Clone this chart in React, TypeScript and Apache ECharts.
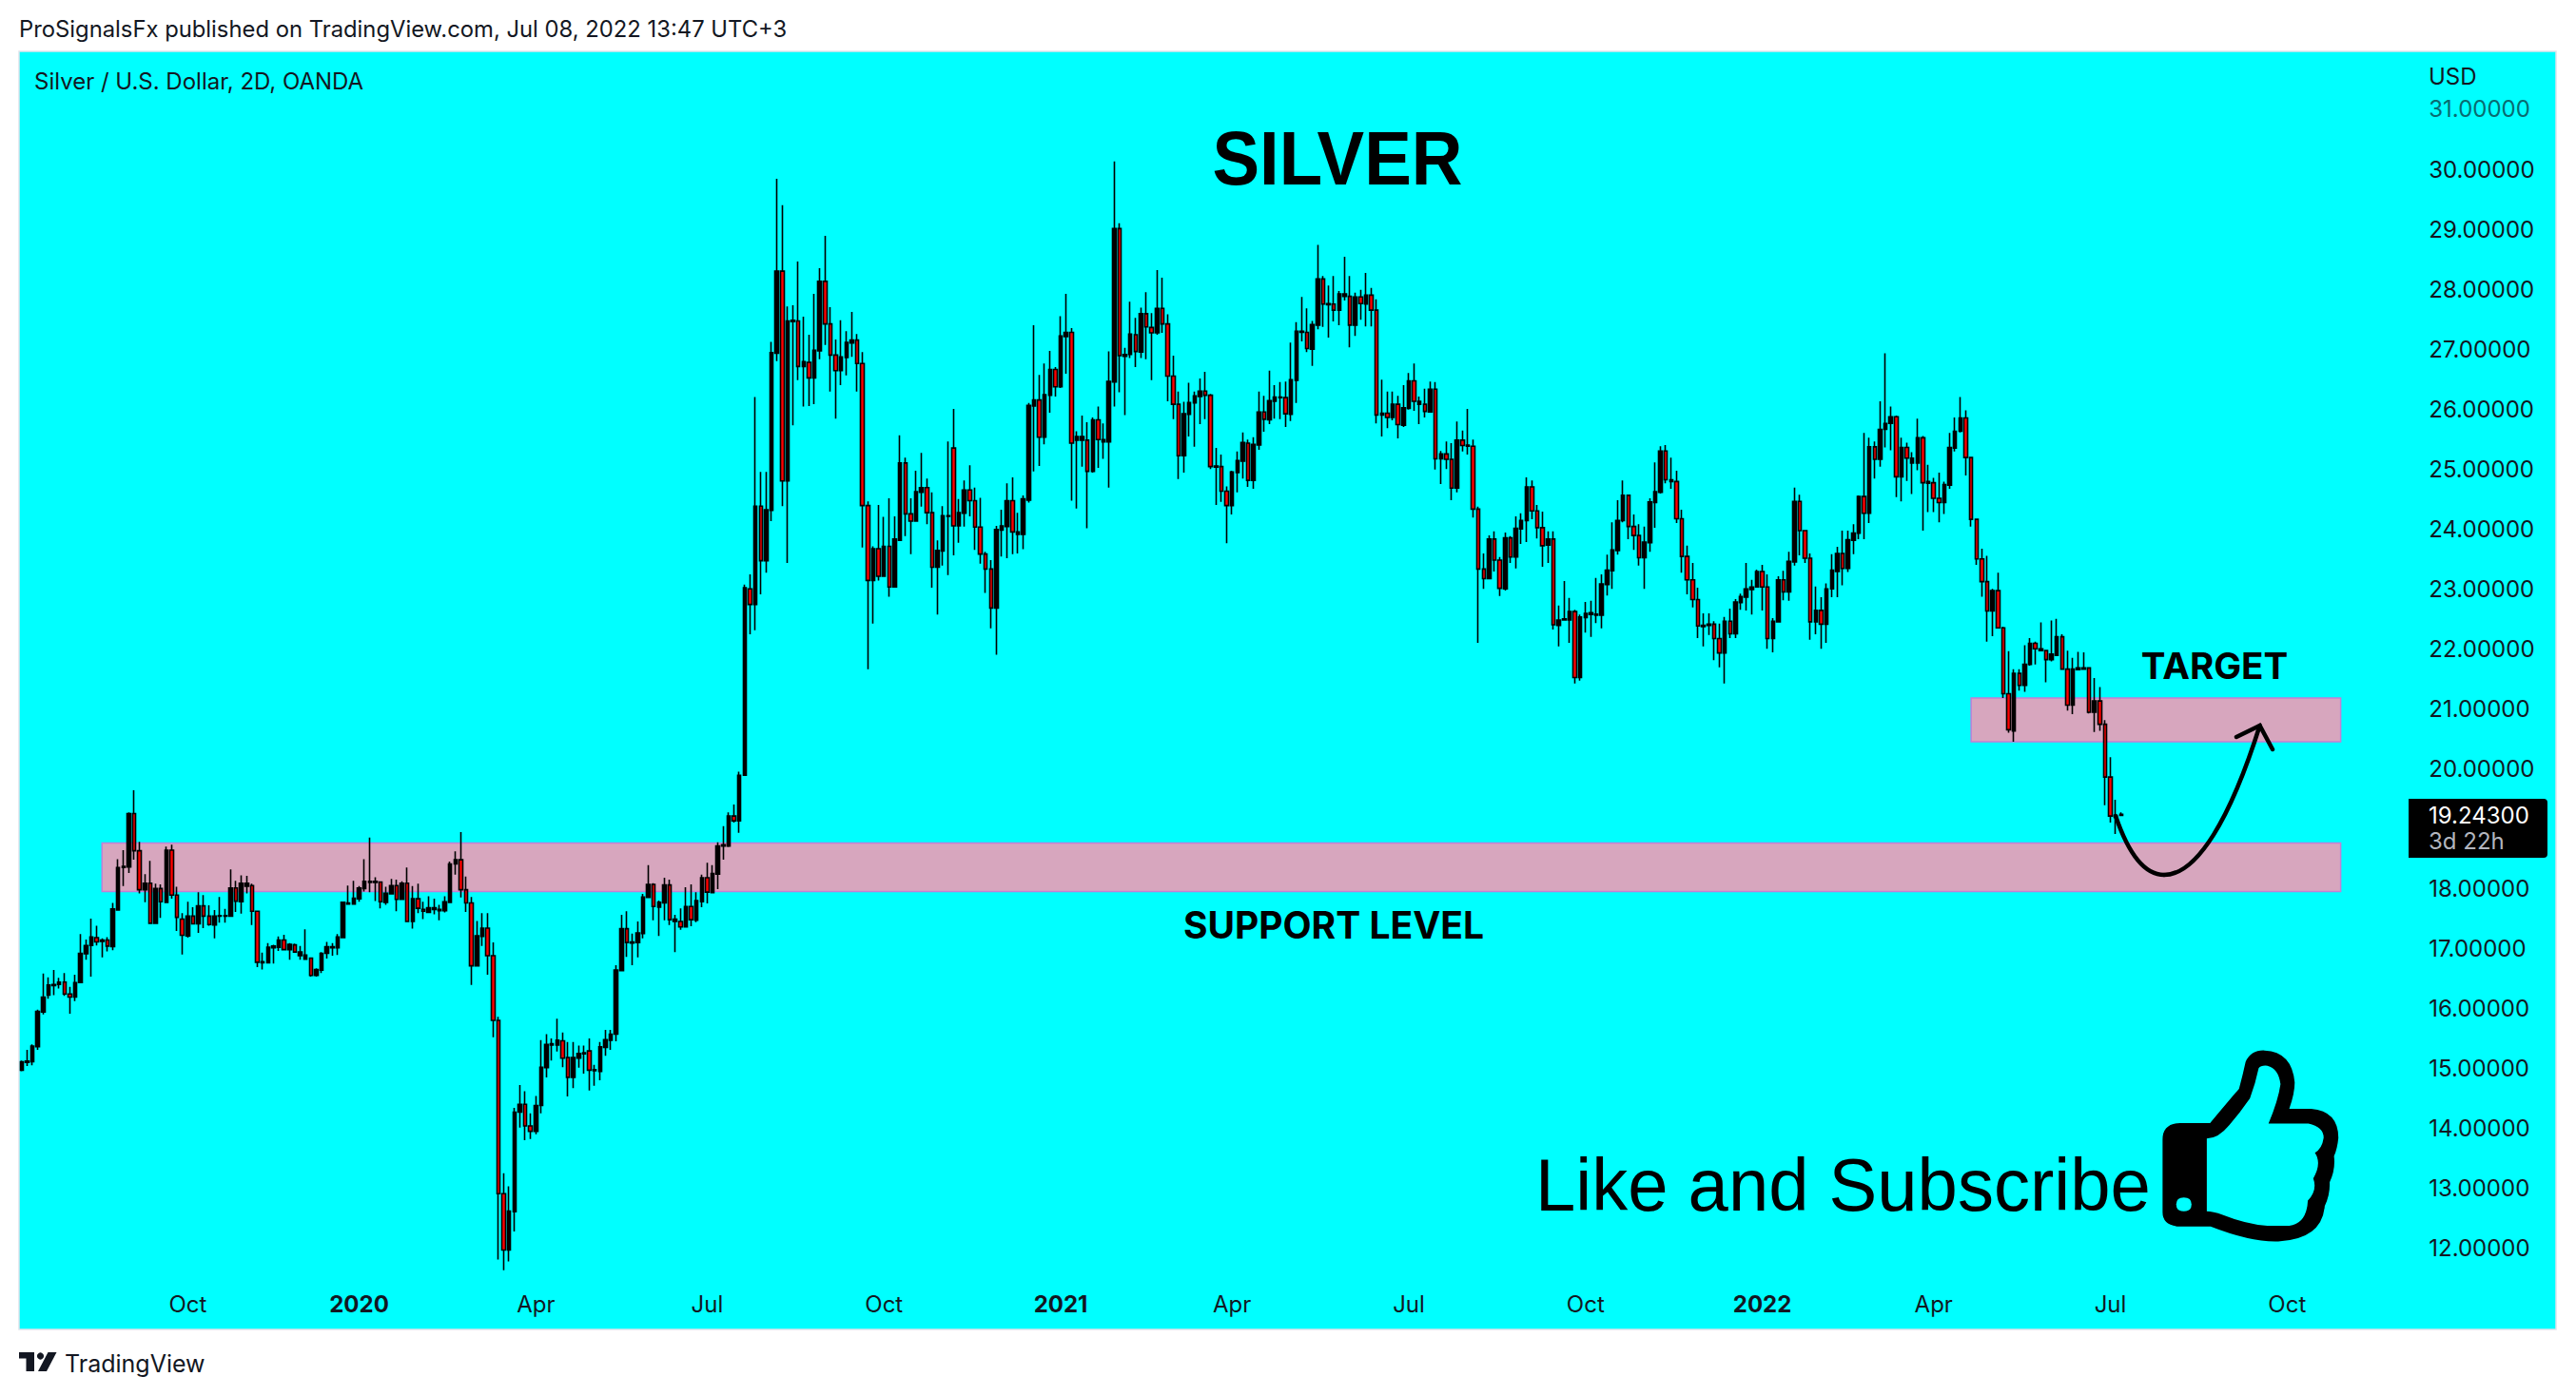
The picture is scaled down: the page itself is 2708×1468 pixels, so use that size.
import React, { useEffect, useRef } from "react";
import * as echarts from "echarts";

// Each row: [open, close, low, high] in USD.
const bars2019 = [
[14.97,15.11,14.95,15.13],[15.10,15.12,15.04,15.31],[15.11,15.37,15.05,15.40],[15.36,15.95,15.31,15.98],[15.94,16.19,15.90,16.58],
[16.22,16.39,16.16,16.52],[16.38,16.40,16.22,16.64],[16.40,16.44,16.33,16.51],[16.44,16.24,16.21,16.59],[16.24,16.19,15.91,16.36],
[16.19,16.43,16.12,16.56],[16.43,16.92,16.42,17.24],[16.91,17.05,16.81,17.15],[17.05,17.19,16.53,17.50],[17.18,17.11,17.05,17.38],
[17.12,17.14,16.85,17.17],[17.14,17.04,16.95,17.19],[17.03,17.66,16.97,17.76],[17.64,18.35,17.63,18.49],[18.35,18.37,18.04,18.64],
[18.36,19.25,18.26,19.27],[19.25,18.63,18.48,19.64],[18.63,17.98,17.92,18.78],[17.98,18.09,17.77,18.24],[18.09,17.42,17.41,18.46],
[17.42,18.00,17.42,18.08],[18.00,17.78,17.51,18.07],[17.77,18.64,17.76,18.70],[18.64,17.89,17.83,18.73],[17.89,17.52,17.29,18.03],
[17.49,17.22,16.90,17.59],[17.21,17.54,17.18,17.78],[17.54,17.41,17.40,17.69],[17.41,17.71,17.26,17.94],[17.71,17.54,17.34,17.89],
[17.54,17.40,17.38,17.72],[17.39,17.54,17.17,17.64],[17.54,17.55,17.43,17.86],[17.54,17.55,17.43,17.66],[17.54,18.01,17.53,18.32],
[18.01,17.79,17.61,18.13],[17.78,18.09,17.58,18.22],[18.04,18.09,17.92,18.21],[18.05,17.62,17.39,18.08],[17.62,16.77,16.69,17.63],
[16.76,16.78,16.65,16.93],[16.76,17.02,16.75,17.09],[17.01,17.04,16.75,17.06],[17.02,17.14,16.96,17.20],[17.14,16.98,16.97,17.23],
[16.98,17.07,16.81,17.09],[17.06,16.94,16.93,17.08],[16.88,16.94,16.81,17.04],[16.82,16.89,16.81,17.32],[16.84,16.55,16.53,16.85],
[16.55,16.65,16.53,16.67],[16.64,16.92,16.59,16.94],[16.92,17.03,16.83,17.11],[17.01,17.03,16.88,17.09],[17.01,17.19,16.89,17.24],
[17.18,17.77,17.17,17.78],[17.74,17.76,17.73,18.05],[17.74,17.84,17.73,18.13],
];
const bars2020 = [
[17.83,18.01,17.78,18.04],[18.00,18.12,17.95,18.49],[18.10,18.12,17.94,18.85],[18.10,18.12,17.79,18.19],[18.11,17.78,17.67,18.12],
[17.77,17.92,17.73,18.03],[17.91,18.05,17.90,18.16],[18.05,17.82,17.62,18.15],[17.82,18.09,17.82,18.12],[18.09,17.45,17.44,18.35],
[17.45,17.83,17.33,18.04],[17.83,17.67,17.59,18.08],[17.65,17.62,17.49,17.78],[17.60,17.68,17.59,17.87],[17.65,17.68,17.57,17.83],
[17.63,17.65,17.47,17.73],[17.63,17.78,17.60,17.87],[17.77,18.41,17.77,18.45],[18.41,18.48,18.23,18.62],[18.48,17.98,17.85,18.94],
[17.98,17.76,17.61,18.20],[17.76,16.71,16.39,17.86],[16.71,17.21,16.71,17.46],[17.20,17.34,17.04,17.59],[17.34,16.88,16.56,17.59],
[16.88,15.80,15.52,17.10],[15.80,12.91,11.81,15.86],[12.91,11.97,11.63,13.25],[11.97,12.62,11.78,13.03],[12.61,14.27,12.28,14.34],
[14.27,14.40,14.01,14.72],[14.40,14.04,13.80,14.62],[14.04,13.95,13.82,14.25],[13.95,14.38,13.90,14.54],[14.38,15.02,14.25,15.47],
[15.01,15.40,14.85,15.57],[15.39,15.41,15.13,15.50],[15.39,15.47,15.28,15.83],[15.46,15.17,15.02,15.60],[15.18,14.85,14.53,15.44],
[14.85,15.18,14.67,15.44],[15.17,15.25,15.01,15.38],[15.24,15.26,14.91,15.38],[15.29,14.97,14.63,15.50],[14.96,14.98,14.71,15.06],
[14.95,15.36,14.80,15.44],[15.35,15.48,15.21,15.64],[15.47,15.57,15.31,15.64],[15.57,16.64,15.45,16.72],[16.63,17.33,16.62,17.56],
[17.33,17.10,16.86,17.62],[17.09,17.11,16.72,17.25],[17.10,17.26,16.85,17.45],[17.25,17.86,17.17,17.91],[17.85,18.07,17.85,18.39],
[18.07,17.70,17.47,18.09],[17.69,17.77,17.21,17.80],[17.76,18.06,17.47,18.18],[18.06,17.48,17.39,18.15],[17.45,17.49,16.94,17.56],
[17.45,17.36,17.31,17.67],[17.36,17.70,17.36,18.02],[17.70,17.48,17.37,18.07],[17.47,17.80,17.44,17.94],[17.78,18.18,17.69,18.23],
[18.18,17.94,17.75,18.43],[17.93,18.25,17.93,18.39],[18.24,18.71,17.99,18.77],[18.71,18.73,18.48,19.04],[18.71,19.21,18.69,19.27],
[19.21,19.13,19.10,19.40],[19.13,19.89,18.93,19.95],[19.89,23.02,19.88,23.07],[23.00,22.74,22.24,23.24],[22.74,24.38,22.31,26.20],
[24.38,23.47,22.91,24.95],[23.47,24.32,23.27,24.95],[24.31,26.94,24.13,27.12],[26.93,28.30,26.80,29.84],[28.30,24.80,24.38,29.40],
[24.80,27.47,23.43,27.71],[27.46,27.48,25.73,27.73],[27.47,26.71,26.48,28.46],[26.71,26.79,26.04,27.54],[26.78,26.52,26.05,27.24],
[26.52,26.98,26.08,27.92],[26.97,28.13,26.83,28.35],[28.13,27.42,27.07,28.89],[27.42,26.90,26.29,27.70],[26.90,26.64,25.84,27.16],
[26.64,26.87,26.40,27.48],[26.86,27.11,26.56,27.30],[27.10,27.15,26.87,27.62],[27.15,26.76,26.29,27.25],[26.76,24.39,23.69,26.95],
[24.39,23.14,21.66,24.46],[23.14,23.67,22.42,23.71],[23.67,23.21,23.14,24.40],[23.21,23.71,23.20,24.20],[23.71,23.03,22.87,24.51],
[23.03,23.83,23.02,24.21],[23.81,25.10,23.81,25.56],[25.10,24.25,23.88,25.19],[24.25,24.13,23.58,24.51],[24.13,24.62,24.12,24.97],
[24.61,24.69,24.37,25.27],[24.69,24.27,24.08,24.84],[24.27,23.36,23.02,24.61],[23.36,23.64,22.57,23.81],[23.63,24.22,23.39,24.38],
[24.21,24.22,23.23,25.46],[25.35,24.05,23.56,26.00],[24.05,24.27,23.77,24.50],[24.26,24.65,24.04,24.81],[24.65,24.47,24.21,25.06],
[24.47,24.03,23.65,24.69],[24.03,23.58,23.42,24.52],[23.58,23.33,22.93,23.62],[23.33,22.68,22.34,23.48],[22.68,23.99,21.90,24.05],
[23.98,24.05,23.54,24.32],[24.04,24.47,23.51,24.76],[24.47,23.95,23.58,24.86],[23.91,23.95,23.59,24.27],[23.91,24.50,23.66,24.56],
[24.48,26.06,24.44,26.10],[26.05,26.15,24.96,27.40],[26.15,25.53,25.05,26.57],[25.53,26.24,25.41,26.76],[26.23,26.66,25.94,26.97],
[26.66,26.37,26.21,26.70],
];
const bars2021 = [
[26.37,27.22,26.35,27.55],[27.21,27.28,26.59,27.92],[27.28,25.43,24.47,27.35],[25.48,25.54,24.34,25.63],[25.48,25.54,25.04,25.89],
[25.48,24.96,24.01,25.78],[24.96,25.82,24.94,25.86],[25.82,25.49,25.02,26.04],[25.45,25.49,25.17,25.76],[25.45,26.46,24.69,26.96],
[26.45,29.01,26.04,30.13],[29.01,26.89,26.28,29.10],[26.88,26.91,25.90,27.02],[26.91,27.25,26.85,27.79],[27.24,26.96,26.70,27.52],
[26.95,27.59,26.85,27.69],[27.59,27.37,26.83,27.95],[27.36,27.27,26.48,27.60],[27.27,27.68,27.24,28.32],[27.68,27.42,27.27,28.19],
[27.42,26.55,26.13,27.58],[26.55,26.08,25.83,26.89],[26.08,25.22,24.83,26.29],[25.22,25.92,24.94,26.12],[25.91,26.11,25.54,26.44],
[26.10,26.22,25.37,26.29],[26.21,26.30,25.75,26.51],[26.30,26.23,25.83,26.62],[26.23,25.04,25.00,26.25],[25.03,25.05,24.40,25.35],
[25.04,24.63,24.45,25.24],[24.63,24.39,23.76,24.71],[24.39,24.95,24.24,24.97],[24.94,25.14,24.61,25.29],[25.13,25.44,24.84,25.61],
[25.43,24.81,24.70,25.49],[24.81,25.41,24.67,25.53],[25.40,25.95,25.32,26.29],[25.95,25.83,25.62,26.22],[25.82,26.14,25.75,26.64],
[26.13,26.20,25.84,26.40],[26.19,26.20,25.83,26.45],[26.19,25.92,25.70,26.46],[25.91,26.49,25.80,27.11],[26.48,27.30,26.10,27.45],
[27.28,27.30,27.13,27.87],[27.28,27.01,26.95,27.68],[27.00,27.41,26.72,27.47],[27.40,28.17,27.33,28.74],[28.17,27.75,27.37,28.22],
[27.74,27.76,27.19,28.06],[27.75,27.65,27.46,28.22],[27.65,27.92,27.40,27.97],[27.88,27.92,27.81,28.54],[27.88,27.40,27.03,28.22],
[27.40,27.87,27.22,27.94],[27.87,27.76,27.49,27.99],[27.75,27.90,27.38,28.27],[27.90,27.65,27.38,28.02],[27.65,25.90,25.76,27.83],
[25.90,25.93,25.54,26.49],[25.93,25.86,25.68,26.29],[25.86,26.08,25.81,26.29],[26.08,25.74,25.51,26.22],[25.73,26.02,25.70,26.40],
[26.01,26.47,25.99,26.60],[26.47,26.13,25.97,26.76],[26.08,26.13,25.75,26.21],[26.08,25.96,25.86,26.34],[25.95,26.33,25.94,26.46],
[26.33,25.17,24.99,26.45],[25.17,25.25,24.75,25.30],[25.25,25.16,25.00,25.46],[25.16,24.68,24.48,25.43],[24.68,25.48,24.61,25.79],
[25.48,25.39,25.29,25.64],[25.38,25.40,25.24,26.00],[25.38,24.33,24.19,25.49],[24.33,23.33,22.10,24.37],[23.33,23.17,23.00,23.59],
[23.17,23.83,23.17,23.89],[23.83,23.48,23.29,23.96],[23.48,23.01,22.88,23.53],[23.00,23.85,22.97,23.94],[23.85,23.53,23.43,23.88],
[23.53,24.01,23.34,24.21],[24.00,24.14,23.75,24.26],[24.14,24.70,23.78,24.86],[24.70,24.30,24.16,24.81],[24.30,24.02,23.84,24.40],
[24.02,23.72,23.37,24.29],[23.73,23.83,23.43,23.96],[23.83,22.40,22.32,23.96],[22.39,22.48,22.04,22.72],[22.48,22.50,22.47,23.13],
[22.48,22.62,22.10,22.85],[22.62,21.52,21.42,22.65],[21.52,22.53,21.47,22.57],[22.52,22.59,22.27,22.78],[22.57,22.60,22.20,22.80],
[22.56,22.58,22.43,23.18],[22.56,23.08,22.34,23.24],[23.07,23.31,22.89,23.57],[23.30,23.65,23.00,24.11],[23.64,24.14,23.57,24.48],
[24.14,24.56,24.11,24.81],[24.56,24.04,23.83,24.57],[24.04,23.89,23.65,24.24],[23.89,23.52,23.39,24.08],[23.52,23.78,23.00,24.04],
[23.77,24.45,23.62,24.51],[24.44,24.62,24.02,25.11],[24.61,25.30,24.59,25.38],[25.30,24.82,24.76,25.40],[24.79,24.82,24.67,25.19],
[24.79,24.17,24.10,24.97],[24.17,23.54,23.27,24.32],[23.54,23.15,22.91,23.72],[23.15,22.82,22.69,23.43],[22.82,22.38,22.18,23.02],
[22.37,22.39,22.04,22.59],[22.39,22.41,22.23,22.59],[22.41,22.17,21.81,22.46],[22.17,21.93,21.69,22.42],[21.93,22.46,21.42,22.53],
[22.46,22.25,22.18,22.67],[22.25,22.78,22.18,22.83],
];
const bars2022 = [
[22.77,22.87,22.65,22.92],[22.86,23.00,22.64,23.43],[22.99,23.03,22.57,23.15],[23.03,23.29,23.02,23.32],[23.29,23.03,22.64,23.40],
[23.03,22.17,22.00,23.24],[22.17,22.46,21.94,22.51],[22.45,23.15,22.44,23.21],[23.15,22.95,22.81,23.30],[22.95,23.46,22.80,23.62],
[23.45,24.46,23.39,24.69],[24.46,23.97,23.56,24.57],[23.97,23.51,23.43,23.97],[23.51,22.45,22.15,23.59],[22.45,22.64,22.24,23.04],
[22.64,22.41,22.00,22.86],[22.41,23.00,22.10,23.09],[23.00,23.31,22.86,23.58],[23.29,23.59,22.86,23.70],[23.59,23.34,23.06,23.97],
[23.34,23.82,23.28,23.97],[23.81,23.93,23.58,24.08],[23.93,24.54,23.83,24.56],[24.54,24.26,23.83,25.60],[24.26,25.37,24.10,25.52],
[25.37,25.16,24.84,25.46],[25.16,25.66,25.04,26.13],[25.66,25.76,25.36,26.93],[25.76,25.87,25.31,26.04],[25.87,24.87,24.53,25.89],
[24.87,25.36,24.46,25.52],[25.36,25.18,24.80,25.44],[25.10,25.18,24.58,25.28],[25.10,25.52,24.98,25.84],[25.52,24.77,23.97,25.55],
[24.76,24.79,24.28,25.07],[24.77,24.51,24.28,24.85],[24.51,24.44,24.11,24.94],[24.44,24.74,24.25,24.79],[24.73,25.36,24.67,25.60],
[25.35,25.63,25.29,25.86],[25.63,25.85,25.61,26.20],[25.85,25.19,24.89,25.98],[25.19,24.16,24.04,25.20],[24.16,23.50,23.40,24.17],
[23.50,23.12,22.87,23.67],[23.12,22.63,22.12,23.55],[22.63,22.97,22.21,23.00],[22.97,22.35,22.34,23.27],[22.35,21.25,21.18,22.37],
[21.25,20.65,20.60,21.96],[20.63,21.59,20.45,21.66],[21.59,21.39,21.30,21.66],[21.39,21.74,21.28,22.06],[21.74,22.09,21.72,22.18],
[22.09,22.00,21.74,22.12],[21.97,22.00,21.96,22.44],[21.97,21.82,21.44,21.97],[21.82,21.91,21.79,22.47],[21.89,22.20,21.88,22.50],
[22.20,21.66,21.65,22.24],[21.66,21.06,20.97,21.97],[21.06,21.66,20.91,21.85],[21.65,21.68,21.65,21.95],[21.66,21.68,21.66,21.94],
[21.68,20.94,20.92,21.68],[20.94,21.13,20.61,21.51],[21.13,20.74,20.63,21.36],[20.74,19.86,19.39,20.81],[19.86,19.21,19.10,20.19],
[19.19,19.22,18.91,19.48],[19.22,19.24,19.21,19.27],
];

const tickIndices = [31, 63, 96, 128, 161, 194, 226, 259, 292, 325, 357, 390, 423];
const tickLabels = ["Oct", "2020", "Apr", "Jul", "Oct", "2021", "Apr", "Jul", "Oct", "2022", "Apr", "Jul", "Oct"];
const slotCount = 448;
const supportBand = [17.95, 18.76];
const targetBand = [20.45, 21.18];
const lastPrice = 19.243;
const countdown = "3d 22h";
const hiddenPriceLabels = [11, 19, 32];

const CYAN = "#00ffff";
const INK = "#131722";
const FONT = "Inter, 'Noto Sans', sans-serif";
const HELV = "'Liberation Sans', Arial, sans-serif";

const THUMB_OUTER =
  "M1208 355 Q1208 305 1240 303 L1295 303 Q1340 210 1348 195 Q1355 150 1360 110 Q1370 72 1395 74 Q1445 78 1450 175 Q1450 210 1440 258 L1480 258 Q1530 265 1530 350 Q1528 385 1522 408 Q1525 450 1514 490 Q1515 530 1505 565 Q1500 670 1420 677 Q1370 680 1296 630 L1240 630 Q1208 628 1208 585 Z";
const THUMB_INNER =
  "M1289 352 Q1310 352 1330 310 Q1350 270 1368 225 Q1378 180 1384 130 Q1388 120 1400 122 Q1420 130 1424 180 Q1420 230 1402 305 L1475 305 Q1503 315 1503 350 Q1500 385 1487 397 Q1500 430 1484 478 Q1492 515 1474 548 Q1472 620 1440 628 L1400 628 Q1360 622 1318 593 Q1300 582 1289 582 Z";
const THUMB_DOT = "M1233 560 Q1233 538 1247 538 Q1261 538 1261 560 Q1261 582 1247 582 Q1233 582 1233 560 Z";

echarts.graphic.registerShape("thumbOuter", echarts.graphic.extendPath(THUMB_OUTER, {}));
echarts.graphic.registerShape("thumbInner", echarts.graphic.extendPath(THUMB_INNER, {}));
echarts.graphic.registerShape("thumbDot", echarts.graphic.extendPath(THUMB_DOT, {}));

function label(
  text: string,
  x: number,
  y: number,
  size: number,
  weight: string | number,
  fill: string,
  align = "left",
  family = FONT,
  scaleX = 1
) {
  return {
    type: "text",
    x,
    y,
    scaleX,
    z: 50,
    silent: true,
    style: {
      text,
      fill,
      font: `${weight} ${size}px ${family}`,
      textAlign: align,
      textVerticalAlign: "middle",
    },
  };
}

export default function App() {
  const ref = useRef<HTMLDivElement>(null);
  useEffect(() => {
    document.body.style.margin = "0";
    const chart = echarts.init(ref.current!, null, { renderer: "svg" });
    const bars = [...bars2019, ...bars2020, ...bars2021, ...bars2022];
    const categories = Array.from({ length: slotCount }, (_, i) => String(i));
    const thumb = { x: 1580, y: 1080, scaleX: 1 / 1.742, scaleY: 1 / 3, z: 40, silent: true };
    const bandStyle = { color: "#d7a6be", borderColor: "#c27fd6", borderWidth: 1.5, opacity: 1 };
    const arrowLine = { stroke: "#000000", lineWidth: 4.5, fill: "none", lineCap: "round" };

    chart.setOption({
      animation: false,
      backgroundColor: "#ffffff",
      grid: { left: 20, top: 51.94, width: 2522.24, height: 1323.63 },
      xAxis: {
        type: "category",
        data: categories,
        boundaryGap: true,
        axisLine: { show: false },
        axisTick: { show: false },
        splitLine: { show: false },
        axisLabel: {
          interval: (i: number) => tickIndices.includes(i),
          hideOverlap: false,
          margin: -16,
          verticalAlign: "top",
          fontFamily: FONT,
          fontSize: 24,
          color: INK,
          formatter: (_: string, i: number) => {
            const k = tickIndices.indexOf(i);
            if (k < 0) return "";
            const t = tickLabels[k];
            return /^\d+$/.test(t) ? `{y|${t}}` : t;
          },
          rich: { y: { fontFamily: FONT, fontSize: 24, fontWeight: 700, color: INK } },
        },
      },
      yAxis: {
        type: "value",
        position: "right",
        min: 11,
        max: 32,
        interval: 1,
        scale: true,
        axisLine: { show: false },
        axisTick: { show: false },
        splitLine: { show: false },
        axisLabel: {
          margin: 11,
          fontFamily: FONT,
          fontSize: 24,
          color: (v: number) => (Number(v) === 31 ? "#0a6a70" : INK),
          formatter: (v: number) => (hiddenPriceLabels.includes(v) ? "" : v.toFixed(5)),
        },
      },
      series: [
        {
          type: "candlestick",
          data: bars,
          barWidth: 4,
          clip: false,
          itemStyle: {
            color: "#000000",
            color0: "#ff0000",
            borderColor: "#000000",
            borderColor0: "#000000",
            borderColorDoji: "#000000",
            borderWidth: 1.6,
          },
          markArea: {
            silent: true,
            itemStyle: bandStyle,
            data: [
              [
                { xAxis: "15", yAxis: supportBand[1] },
                { xAxis: "433", yAxis: supportBand[0] },
              ],
              [
                { xAxis: "364", yAxis: targetBand[1] },
                { xAxis: "433", yAxis: targetBand[0] },
              ],
            ],
          },
        },
      ],
      graphic: [
        { type: "rect", z: -10, silent: true, shape: { x: 20, y: 54, width: 2667, height: 1344 }, style: { fill: CYAN, stroke: "#e0e3eb", lineWidth: 1.5 } },

        label("ProSignalsFx published on TradingView.com, Jul 08, 2022 13:47 UTC+3", 20, 30, 23.8, 400, INK),
        label("Silver / U.S. Dollar, 2D, OANDA", 36, 85, 24, 400, INK),
        label("USD", 2553, 80, 24, 400, INK),
        label("SILVER", 1406, 166, 80, 700, "#000000", "center", HELV, 0.93),
        label("SUPPORT LEVEL", 1402, 972, 39, 700, "#000000", "center"),
        label("TARGET", 2328, 700, 38.5, 700, "#000000", "center"),
        label("Like and Subscribe", 1614, 1246, 78, 400, "#000000", "left", HELV, 0.975),
        label("TradingView", 68, 1434, 25, 400, INK),

        { type: "rect", z: 45, silent: true, shape: { x: 2532, y: 840, width: 146, height: 62, r: [0, 4, 4, 0] }, style: { fill: "#000000" } },
        label(lastPrice.toFixed(5), 2553, 857, 24, 400, "#ffffff"),
        label(countdown, 2553, 884, 24, 400, "#b2b5be"),

        { type: "bezierCurve", z: 40, silent: true, shape: { x1: 2224, y1: 858, cpx1: 2240, cpy1: 905, cpx2: 2258, cpy2: 920, x2: 2275, y2: 920 }, style: arrowLine },
        { type: "bezierCurve", z: 40, silent: true, shape: { x1: 2275, y1: 920, cpx1: 2310, cpy1: 920, cpx2: 2345, cpy2: 860, x2: 2375.6, y2: 763 }, style: arrowLine },
        { type: "polyline", z: 40, silent: true, shape: { points: [[2351, 775], [2375.6, 763], [2389, 788]] }, style: arrowLine },

        { type: "thumbOuter", ...thumb, style: { fill: "#000000" } },
        { type: "thumbInner", ...thumb, z: 41, style: { fill: CYAN } },
        { type: "thumbDot", ...thumb, z: 41, style: { fill: CYAN } },

        { type: "polygon", z: 50, silent: true, shape: { points: [[20, 1422], [36, 1422], [36, 1442], [27.5, 1442], [27.5, 1428.5], [20, 1428.5]] }, style: { fill: INK } },
        { type: "circle", z: 50, silent: true, shape: { cx: 42.5, cy: 1426, r: 3.6 }, style: { fill: INK } },
        { type: "polygon", z: 50, silent: true, shape: { points: [[40, 1442], [50.5, 1422], [59.5, 1422], [49, 1442]] }, style: { fill: INK } },
      ],
    });
    return () => chart.dispose();
  }, []);
  return <div ref={ref} style={{ position: "absolute", left: 0, top: 0, width: 2708, height: 1468 }} />;
}
